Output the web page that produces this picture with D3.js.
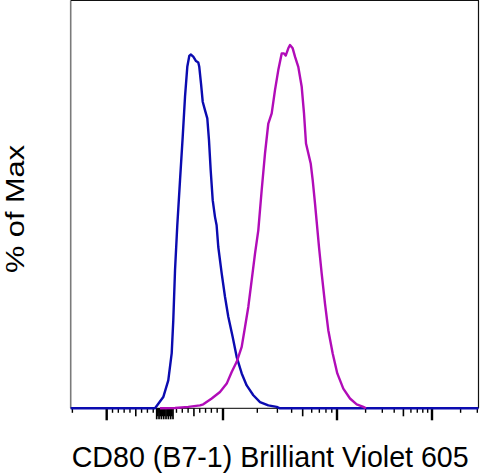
<!DOCTYPE html>
<html>
<head>
<meta charset="utf-8">
<script src="https://cdn.jsdelivr.net/npm/d3@7"></script>
<style>
  body { margin: 0; background: #fff; }
</style>
</head>
<body>
<div id="canvas"></div>
<script>
"use strict"

// fluorescence values (x) and % of Max (y)
let blueX = [-2070, -169, -27, 59, 118, 145, 175, 214, 261, 307, 347, 386, 420, 445, 489, 536, 575, 592, 622, 651, 690, 730, 759, 788, 823, 862, 890, 919, 978, 1041, 1113, 1216, 1319, 1459, 1614, 1845, 2112, 2497, 2958, 3162, 308000];
let blueY = [0, 0, 3.1, 7.7, 15.2, 24.2, 38.0, 50.4, 62.8, 74.7, 85.8, 94.0, 97.0, 97.4, 96.8, 95.6, 95.2, 94.0, 89.4, 84.4, 82.1, 79.8, 73.8, 65.6, 57.3, 52.7, 50.4, 44.4, 37.1, 30.7, 25.2, 19.6, 14.1, 9.6, 6.3, 3.6, 1.7, 0.8, 0.4, 0, 0];

let magentaX = [-83, 175, 403, 604, 661, 806, 948, 1078, 1192, 1319, 1459, 1560, 1667, 1785, 1909, 2040, 2185, 2336, 2497, 2674, 2858, 3055, 3273, 3428, 3548, 3740, 3870, 4087, 4281, 4576, 4902, 5135, 5347, 5601, 5879, 6121, 6412, 6636, 6951, 7341, 7847, 8389, 9168, 10073, 11650, 13700, 16120, 18920, 20200];
let magentaY = [0, 0.1, 0.4, 0.8, 1.1, 2.7, 4.5, 6.8, 10.0, 12.8, 16.9, 22.4, 27.9, 35.3, 42.6, 49.0, 60.1, 70.2, 78.4, 81.2, 87.6, 93.1, 97.7, 97.7, 97.1, 99.1, 100, 99.1, 96.8, 94.0, 88.5, 81.2, 72.9, 70.2, 67.4, 62.8, 56.4, 51.3, 44.4, 37.1, 28.8, 21.5, 15.1, 9.6, 5.4, 2.7, 1.1, 0.4, 0];

// axis tick values
let majorTicks = [-1000, 1000, 10000, 100000];
let mediumTicks = [-500, 500, 5000, 50000];
let minorTicks = [-2000, -900, -800, -700, -600, -400, -300, -200, -100,
                  100, 200, 300, 400, 600, 700, 800, 900,
                  2000, 3000, 4000, 6000, 7000, 8000, 9000,
                  20000, 30000, 40000, 60000, 70000, 80000, 90000,
                  200000, 300000];
let zeroTicks = [-140, -120, -100, -80, -60, -40, -20, 0, 20, 40, 60, 80, 100, 120, 140];

let xMin = -2070;
let xMax = 308000;
let yMax = 112.4;

let drawingWidth = 480;
let drawingHeight = 474;
let plotLeft = 70.7;
let plotRight = 478.5;
let plotTop = 0.5;
let plotBottom = 408.3;

let drawing = d3.select("#canvas")
    .append("svg")
    .attr("width", drawingWidth)
    .attr("height", drawingHeight);

/* biexponential-like transform: linear between -1000 and 1000, log decades outside */
function biex(v) {
    if (Math.abs(v) <= 1000) return v / 1000;
    return Math.sign(v) * (1 + Math.log10(Math.abs(v) / 1000));
}

// each display unit gets its own width
let xg = d3.scaleLinear()
    .domain([-2, -1, 1, 2, 3])
    .range([-7.3, 106.7, 223, 337, 432]);
let x = v => xg(biex(v));

let y = d3.scaleLinear()
    .domain([0, yMax])
    .range([plotBottom, 0]);

/* frame */
drawing.append("line")
    .attr("x1", plotLeft).attr("x2", plotLeft)
    .attr("y1", plotTop).attr("y2", plotBottom)
    .attr("stroke", "#7a7a7a")
    .attr("stroke-width", 1.6);

drawing.append("line")
    .attr("x1", plotLeft).attr("x2", plotRight + 0.5)
    .attr("y1", plotTop).attr("y2", plotTop)
    .attr("stroke", "#111")
    .attr("stroke-width", 1.2);

drawing.append("line")
    .attr("x1", plotRight).attr("x2", plotRight)
    .attr("y1", plotTop).attr("y2", plotBottom)
    .attr("stroke", "#111")
    .attr("stroke-width", 1.2);

drawing.append("line")
    .attr("x1", x(xMin)).attr("x2", x(xMax))
    .attr("y1", plotBottom).attr("y2", plotBottom)
    .attr("stroke", "#333")
    .attr("stroke-width", 1.2);

/* ticks */
function drawTicks(values, len, width) {
    drawing.append("g")
        .selectAll("line")
        .data(values)
        .join("line")
        .attr("x1", d => x(d))
        .attr("x2", d => x(d))
        .attr("y1", plotBottom)
        .attr("y2", plotBottom + len)
        .attr("stroke", "#000")
        .attr("stroke-width", width);
}
drawTicks(minorTicks, 4.5, 1.4);
drawTicks(mediumTicks, 8, 1.6);
drawTicks(majorTicks, 12, 2.4);
drawTicks(zeroTicks.filter((d, i) => i % 2 == 0), 11, 1.7);
drawTicks(zeroTicks.filter((d, i) => i % 2 == 1), 8, 1.7);

/* histograms */
let line = d3.line()
    .x(d => x(d[0]))
    .y(d => y(d[1]));

drawing.append("path")
    .datum(d3.zip(blueX, blueY))
    .attr("d", line)
    .attr("fill", "none")
    .attr("stroke", "#0b0bb0")
    .attr("stroke-width", 2.4)
    .attr("stroke-linejoin", "round");

drawing.append("path")
    .datum(d3.zip(magentaX, magentaY))
    .attr("d", line)
    .attr("fill", "none")
    .attr("stroke", "#b10cb8")
    .attr("stroke-width", 2.4)
    .attr("stroke-linejoin", "round");

/* axis titles */
drawing.append("text")
    .attr("x", 71.7)
    .attr("y", 466.7)
    .attr("font-family", "Liberation Sans, Arial, sans-serif")
    .attr("font-size", 29)
    .attr("textLength", 397)
    .attr("lengthAdjust", "spacingAndGlyphs")
    .attr("fill", "#000")
    .text("CD80 (B7-1) Brilliant Violet 605");

drawing.append("text")
    .attr("transform", "translate(24,209) rotate(-90)")
    .attr("text-anchor", "middle")
    .attr("font-family", "Liberation Sans, Arial, sans-serif")
    .attr("font-size", 26)
    .attr("textLength", 128)
    .attr("lengthAdjust", "spacingAndGlyphs")
    .attr("fill", "#000")
    .text("% of Max");
</script>
</body>
</html>
